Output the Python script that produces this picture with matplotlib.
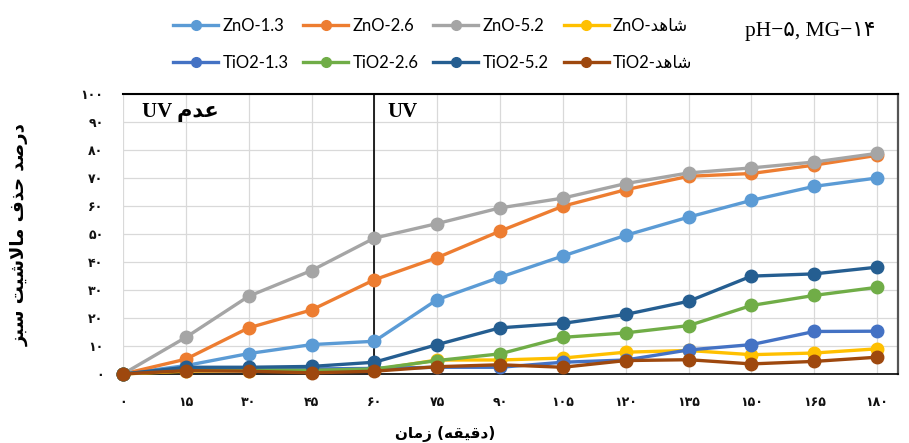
import matplotlib
matplotlib.use("Agg")
import matplotlib.pyplot as plt

# ---------------- data ----------------
times = [0, 15, 30, 45, 60, 75, 90, 105, 120, 135, 150, 165, 180]
zno_13 = [0, 3.0, 7.3, 10.5, 11.7, 26.6, 34.6, 42.2, 49.6, 56.1, 62.1, 67.1, 70.1]
zno_26 = [0, 5.3, 16.5, 22.9, 33.7, 41.6, 51.1, 60.0, 65.9, 70.7, 71.7, 74.7, 78.2]
zno_52 = [0, 13.1, 27.8, 37.0, 48.6, 53.8, 59.4, 62.9, 68.1, 71.9, 73.7, 75.8, 78.9]
zno_ctrl = [0, 1.0, 1.2, 1.0, 1.5, 5.0, 5.0, 5.7, 7.8, 8.4, 6.9, 7.5, 9.0]
tio2_13 = [0, 2.0, 2.0, 1.8, 2.0, 2.4, 2.4, 4.2, 5.0, 8.6, 10.5, 15.2, 15.3]
tio2_26 = [0, 1.5, 1.5, 1.3, 1.8, 4.8, 7.2, 13.1, 14.7, 17.3, 24.5, 28.1, 31.0]
tio2_52 = [0, 2.4, 2.4, 2.7, 4.2, 10.5, 16.5, 18.1, 21.3, 26.0, 35.0, 35.8, 38.2]
tio2_ctrl = [0, 1.2, 1.0, 0.4, 1.0, 2.6, 3.3, 2.4, 4.8, 5.1, 3.6, 4.5, 6.0]

x_ticks = [0, 15, 30, 45, 60, 75, 90, 105, 120, 135, 150, 165, 180]
y_ticks = [0, 10, 20, 30, 40, 50, 60, 70, 80, 90, 100]

# ---------------- Arabic shaping (visual order) ----------------
FORMS = {
    'ا': (0xFE8D, 0xFE8E, None, None),
    'د': (0xFEA9, 0xFEAA, None, None),
    'ذ': (0xFEAB, 0xFEAC, None, None),
    'ر': (0xFEAD, 0xFEAE, None, None),
    'ز': (0xFEAF, 0xFEB0, None, None),
    'ب': (0xFE8F, 0xFE90, 0xFE91, 0xFE92),
    'ت': (0xFE95, 0xFE96, 0xFE97, 0xFE98),
    'ح': (0xFEA1, 0xFEA2, 0xFEA3, 0xFEA4),
    'س': (0xFEB1, 0xFEB2, 0xFEB3, 0xFEB4),
    'ش': (0xFEB5, 0xFEB6, 0xFEB7, 0xFEB8),
    'ص': (0xFEB9, 0xFEBA, 0xFEBB, 0xFEBC),
    'ع': (0xFEC9, 0xFECA, 0xFECB, 0xFECC),
    'ف': (0xFED1, 0xFED2, 0xFED3, 0xFED4),
    'ق': (0xFED5, 0xFED6, 0xFED7, 0xFED8),
    'ل': (0xFEDD, 0xFEDE, 0xFEDF, 0xFEE0),
    'م': (0xFEE1, 0xFEE2, 0xFEE3, 0xFEE4),
    'ن': (0xFEE5, 0xFEE6, 0xFEE7, 0xFEE8),
    'ه': (0xFEE9, 0xFEEA, 0xFEEB, 0xFEEC),
    'ی': (0xFEEF, 0xFEF0, 0xFEF3, 0xFEF4),
}


def dual(c):
    return c in FORMS and FORMS[c][2] is not None


def ar(s):
    out = []
    i = 0
    n = len(s)
    while i < n:
        c = s[i]
        if c not in FORMS:
            out.append(c)
            i += 1
            continue
        prev = s[i - 1] if i > 0 else ''
        joined_prev = dual(prev)
        if c == 'ل' and i + 1 < n and s[i + 1] == 'ا':
            out.append(chr(0xFEFC if joined_prev else 0xFEFB))
            i += 2
            continue
        nxt = s[i + 1] if i + 1 < n else ''
        joins_next = dual(c) and nxt in FORMS
        iso, fin, ini, med = FORMS[c]
        if joined_prev and joins_next:
            g = med
        elif joined_prev:
            g = fin
        elif joins_next:
            g = ini
        else:
            g = iso
        out.append(chr(g))
        i += 1
    return ''.join(reversed(out))


def fa(v):
    return ''.join(chr(0x06F0 + int(d)) if d.isdigit() else d for d in str(v))


# ---------------- figure ----------------
fig = plt.figure(figsize=(9.09, 4.43), dpi=100)
ax = fig.add_axes([0.1353, 0.1558, 0.988 - 0.1353, 0.787 - 0.1558])

series = [
    ("ZnO-1.3", zno_13, "#5B9BD5"),
    ("ZnO-2.6", zno_26, "#ED7D31"),
    ("ZnO-5.2", zno_52, "#A5A5A5"),
    ("ZnO-" + ar("شاهد"), zno_ctrl, "#FFC000"),
    ("TiO2-1.3", tio2_13, "#4472C4"),
    ("TiO2-2.6", tio2_26, "#70AD47"),
    ("TiO2-5.2", tio2_52, "#255E91"),
    ("TiO2-" + ar("شاهد"), tio2_ctrl, "#9E480E"),
]

handles = []
for i, (lab, vals, col) in enumerate(series):
    h, = ax.plot(times, vals, color=col, lw=2.4, marker='o', ms=9,
                 label=lab, clip_on=False, zorder=3 + i)
    handles.append(h)

ax.set_xlim(0, 185)
ax.set_ylim(0, 100)
ax.set_xticks(x_ticks)
ax.set_xticklabels([fa(t) for t in x_ticks])
ax.set_yticks(y_ticks)
ax.set_yticklabels([fa(t) for t in y_ticks])
ax.tick_params(axis='both', length=0, labelsize=9, colors='#111111')
ax.tick_params(axis='y', pad=14)
ax.tick_params(axis='x', pad=16)
for lab in ax.get_xticklabels() + ax.get_yticklabels():
    lab.set_fontfamily('DejaVu Sans')
    lab.set_fontweight('bold')

ax.grid(True, color='#D9D9D9', lw=0.9, zorder=0)
ax.set_axisbelow(True)
ax.spines['left'].set_visible(False)
ax.spines['top'].set_color('black')
ax.spines['top'].set_linewidth(1.5)
ax.spines['right'].set_color('#555555')
ax.spines['right'].set_linewidth(1.6)
ax.spines['bottom'].set_color('black')
ax.spines['bottom'].set_linewidth(1.2)

ax.axvline(60, color='black', lw=1.2, zorder=2)

ax.text(4.5, 93.7, "UV " + ar("عدم"), fontsize=15, fontweight='bold',
        family=['Liberation Serif', 'DejaVu Sans'], ha='left', va='center')
ax.text(63.2, 93.7, "UV", fontsize=15, fontweight='bold',
        family=['Liberation Serif', 'DejaVu Sans'], ha='left', va='center')

fig.text(0.49, 0.02, ar("زمان") + " (" + ar("دقیقه") + ")", fontsize=11,
         fontweight='bold', family='DejaVu Sans', ha='center', va='center')
fig.text(0.022, 0.47, ar("درصد حذف مالاشیت سبز"), fontsize=13, fontweight='bold',
         family='DejaVu Sans', rotation=90, ha='center', va='center')

fig.text(0.82, 0.928, "pH−" + fa(5) + ", MG−" + fa(14), fontsize=15.5,
         family=['Liberation Serif', 'DejaVu Sans'], ha='left', va='center')

order = [0, 4, 1, 5, 2, 6, 3, 7]
leg = fig.legend([handles[k] for k in order], [series[k][0] for k in order],
                 ncol=4, loc='center', bbox_to_anchor=(0.476, 0.899),
                 frameon=False, handlelength=2.7,
                 columnspacing=0.9, handletextpad=0.25, labelspacing=1.25,
                 prop={'family': ['Lato', 'DejaVu Sans'], 'size': 12})
for line in leg.get_lines():
    line.set_markersize(7)

fig.savefig("out.png", dpi=100)
